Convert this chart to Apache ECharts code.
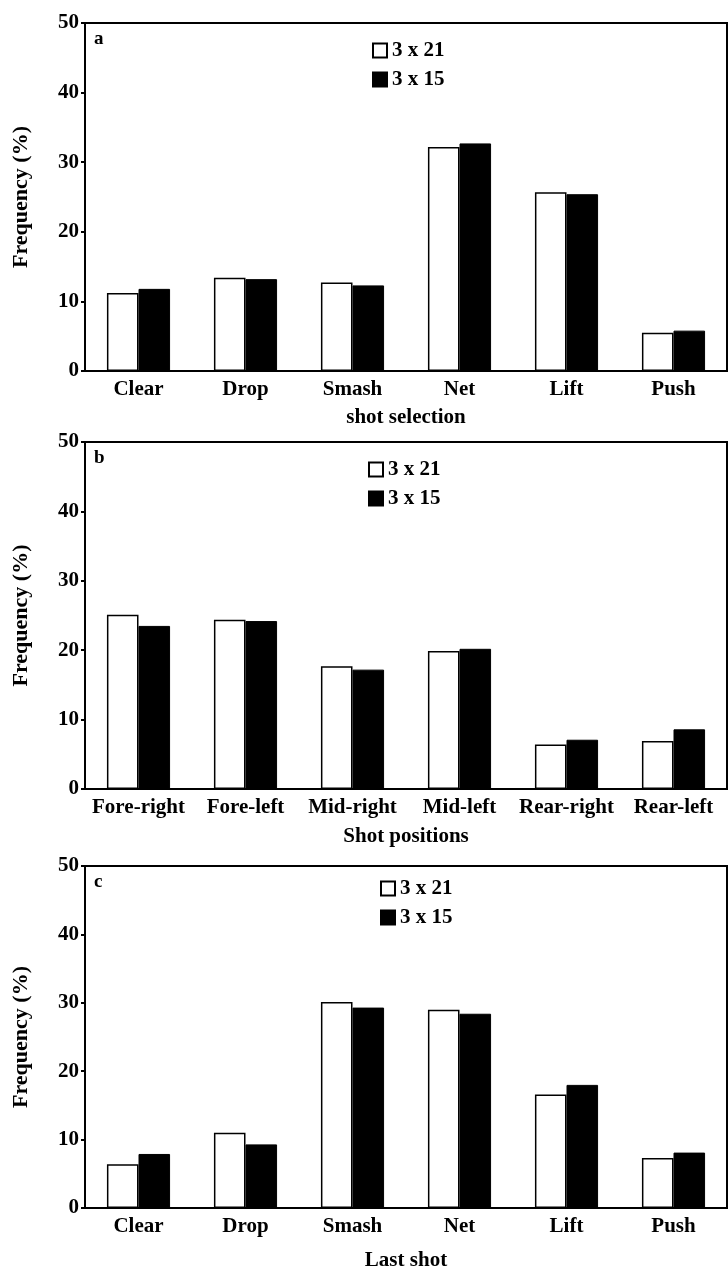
<!DOCTYPE html>
<html>
<head>
<meta charset="utf-8">
<script src="https://cdn.jsdelivr.net/npm/echarts@6/dist/echarts.min.js"></script>
<style>
html,body{margin:0;padding:0;background:#fff;}
#chart{width:728px;height:1272px;}
</style>
</head>
<body>
<div id="chart"></div>
<script>
const shotCategories = ['Clear', 'Drop', 'Smash', 'Net', 'Lift', 'Push'];
const positionCategories = ['Fore-right', 'Fore-left', 'Mid-right', 'Mid-left', 'Rear-right', 'Rear-left'];
const lastShotCategories = ['Clear', 'Drop', 'Smash', 'Net', 'Lift', 'Push'];

const selection21 = [11.2, 13.4, 12.7, 32.2, 25.7, 5.5];
const selection15 = [11.8, 13.2, 12.3, 32.7, 25.4, 5.8];
const positions21 = [25.1, 24.4, 17.7, 19.9, 6.4, 6.9];
const positions15 = [23.5, 24.2, 17.2, 20.2, 7.1, 8.6];
const last21 = [6.4, 11.0, 30.1, 29.0, 16.6, 7.3];
const last15 = [7.9, 9.3, 29.3, 28.4, 18.0, 8.1];

const yTicks = [0, 10, 20, 30, 40, 50];
const seriesNames = ['3 x 21', '3 x 15'];
const xAxisNames = ['shot selection', 'Shot positions', 'Last shot'];
const panelLabels = ['a', 'b', 'c'];

const FONT = '"Liberation Serif", "Times New Roman", serif';

const grids = [
  {left: 85, top: 23, width: 642, height: 348},
  {left: 85, top: 442, width: 642, height: 347},
  {left: 85, top: 866, width: 642, height: 344}
];
const nameGaps = [36, 37, 42];
const legendPos = [{left: 367, top: 35}, {left: 363, top: 454}, {left: 375, top: 873}];

const cats = [shotCategories, positionCategories, lastShotCategories];
const d21 = [selection21, positions21, last21];
const d15 = [selection15, positions15, last15];

const option = {
  backgroundColor: '#fff',
  animation: false,
  textStyle: {fontFamily: FONT, fontWeight: 'bold', color: '#000'},
  grid: grids.map(g => Object.assign({show: true, borderColor: '#000', borderWidth: 2, backgroundColor: 'transparent'}, g)),
  legend: legendPos.map(p => ({
    left: p.left, top: p.top, orient: 'vertical', itemGap: 8,
    itemWidth: 14, itemHeight: 14, icon: 'rect',
    data: seriesNames,
    selectedMode: false,
    textStyle: {fontFamily: FONT, fontWeight: 'bold', fontSize: 21, color: '#000'}
  })),
  xAxis: cats.map((c, i) => ({
    type: 'category', gridIndex: i, data: c,
    name: xAxisNames[i], nameLocation: 'middle', nameGap: nameGaps[i],
    nameTextStyle: {fontFamily: FONT, fontWeight: 'bold', fontSize: 21, color: '#000'},
    axisLine: {lineStyle: {color: '#000', width: 2}},
    axisTick: {inside: true, length: 5, lineStyle: {color: '#000', width: 2}, alignWithLabel: false},
    axisLabel: {fontFamily: FONT, fontWeight: 'bold', fontSize: 21, color: '#000', margin: 8, interval: 0}
  })),
  yAxis: cats.map((c, i) => ({
    type: 'value', gridIndex: i, min: yTicks[0], max: yTicks[yTicks.length - 1], interval: yTicks[1] - yTicks[0],
    name: 'Frequency (%)', nameLocation: 'middle', nameGap: 53,
    nameTextStyle: {fontFamily: FONT, fontWeight: 'bold', fontSize: 22, color: '#000'},
    splitLine: {show: false},
    axisLine: {show: true, lineStyle: {color: '#000', width: 2}},
    axisTick: {show: true, length: 4, lineStyle: {color: '#000', width: 2}},
    axisLabel: {fontFamily: FONT, fontWeight: 'bold', fontSize: 21, color: '#000', margin: 6}
  })),
  graphic: panelLabels.map((t, i) => ({
    type: 'text', left: 94, top: grids[i].top + 7,
    style: {text: t, font: 'bold 19px ' + FONT, fill: '#000'}
  })),
  series: []
};

for (let i = 0; i < 3; i++) {
  option.series.push({
    name: seriesNames[0], type: 'bar', xAxisIndex: i, yAxisIndex: i, data: d21[i],
    barGap: '0%', barCategoryGap: '41%',
    itemStyle: {color: '#fff', borderColor: '#000', borderWidth: 1.5}
  });
  option.series.push({
    name: seriesNames[1], type: 'bar', xAxisIndex: i, yAxisIndex: i, data: d15[i],
    barGap: '0%', barCategoryGap: '41%',
    itemStyle: {color: '#000', borderColor: '#000', borderWidth: 1}
  });
}

const chart = echarts.init(document.getElementById('chart'), null, {renderer: 'canvas'});
chart.setOption(option);
</script>
</body>
</html>
